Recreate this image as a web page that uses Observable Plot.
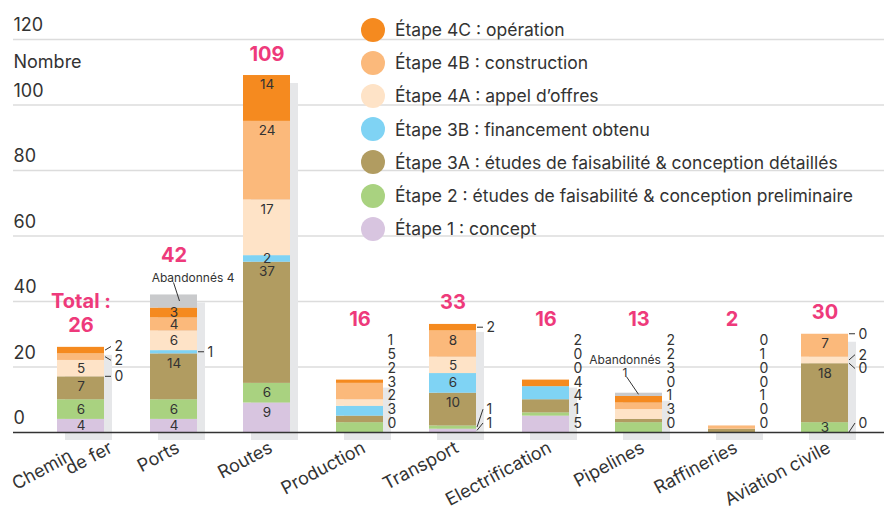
<!DOCTYPE html>
<html><head><meta charset="utf-8">
<script src="https://cdn.jsdelivr.net/npm/d3@7"></script>
<script src="https://cdn.jsdelivr.net/npm/@observablehq/plot@0.6"></script>
<style>
body{margin:0;background:#fff;font-family:Inter, Roboto, sans-serif;}
#wrap{position:relative;width:884px;height:507px;}
#legend{position:absolute;left:361px;top:13px;}
.row{display:flex;align-items:center;height:33.2px;font-size:17.5px;color:#333;white-space:nowrap;}
.sw{width:24px;height:24px;border-radius:50%;margin-right:10px;flex:none;}
svg text{font-family:Inter, Roboto, sans-serif;}
</style></head><body><div id="wrap"><div id="chart"></div><div id="legend"></div></div>
<script>
// ---------- data ----------
const categories = ["Chemin de fer","Ports","Routes","Production","Transport","Electrification","Pipelines","Raffineries","Aviation civile"];
const etape1  = [4, 4, 9, 0, 1, 5, 0, 0, 0];
const etape2  = [6, 6, 6, 3, 1, 1, 3, 0, 3];
const etape3A = [7, 14, 37, 2, 10, 4, 1, 1, 18];
const etape3B = [0, 1, 2, 3, 6, 4, 0, 0, 0];
const etape4A = [5, 6, 17, 2, 5, 0, 3, 0, 2];
const etape4B = [2, 4, 24, 5, 8, 0, 2, 1, 7];
const etape4C = [2, 3, 14, 1, 2, 2, 2, 0, 0];
const abandonnes = [0, 4, 0, 0, 0, 0, 1, 0, 0];
const totals = [26, 42, 109, 16, 33, 16, 13, 2, 30];
const yTicks = [0, 20, 40, 60, 80, 100, 120];
const stageKeys = ["e1","e2","e3A","e3B","e4A","e4B","e4C","ab"];
const stageNames = ["Étape 1 : concept","Étape 2 : études de faisabilité & conception preliminaire","Étape 3A : études de faisabilité & conception détaillés","Étape 3B : financement obtenu","Étape 4A : appel d’offres","Étape 4B : construction","Étape 4C : opération","Abandonnés"];
const stageColors = ["#d8c5e0","#a9d280","#b19c61","#7fd3f4","#fee3c7","#fbb97b","#f58a1f","#c9cacc"];
// label style per category: inside / mixed / list
const labelMode = ["mixed","mixed","inside","list","mixed","list","list","list","mixed"];
const annotations = [
  {category:"Ports", text:"Abandonnés 4", dx:19, dy:-13, x1:0, x2:6, y2:-12},
  {category:"Pipelines", text:"Abandonnés\n1", dx:-14, dy:-16, x1:-12, x2:0, y2:-16}
];

// ---------- layout ----------
const W = 884, H = 507, MT = 39, MB = 75, ML = 13;
const FONT = "Inter, Roboto, sans-serif";
const series = [etape1, etape2, etape3A, etape3B, etape4A, etape4B, etape4C, abandonnes];
const yScale = Plot.scale({y: {domain: [0, 120], range: [H - MB, MT]}});
const rows = [];
categories.forEach((c, i) => {
  let cum = 0;
  series.forEach((arr, s) => {
    rows.push({category: c, stage: stageKeys[s], s, i, value: arr[i], lo: cum, hi: cum + arr[i]});
    cum += arr[i];
  });
});
const grand = categories.map((c, i) => d3.sum(series, a => a[i]));
const catRows = categories.map((c, i) => ({category: c, grand: grand[i]}));

// inside labels
const inside = rows.filter(r => r.s < 7 && r.value > 0 && (labelMode[r.i] === "inside" || (labelMode[r.i] === "mixed" && r.value >= 3)))
  .map(r => ({...r, y: r.hi - Math.min(r.value / 2, 2.9)}));

// outside labels with spreading
const GAP = 13.8, MAXPX = H - MB - 9;
const outside = [];
categories.forEach((c, i) => {
  const mode = labelMode[i];
  if (mode === "inside") return;
  const items = rows.filter(r => r.i === i && r.s < 7 && (mode === "list" || r.value < 3))
    .map(r => ({...r, desired: yScale.apply((r.lo + r.hi) / 2)}));
  let clusters = items.map(d => ({items: [d]}));
  const layout = cl => {
    const m = d3.mean(cl.items, d => d.desired);
    let bottom = m + (cl.items.length - 1) * GAP / 2;
    bottom = Math.min(bottom, MAXPX);
    cl.bottom = bottom; cl.top = bottom - (cl.items.length - 1) * GAP;
  };
  let changed = true;
  while (changed) {
    changed = false;
    clusters.forEach(layout);
    for (let k = 0; k < clusters.length - 1; k++) {
      if (clusters[k].top - clusters[k + 1].bottom < GAP) {
        clusters[k] = {items: clusters[k].items.concat(clusters[k + 1].items)};
        clusters.splice(k + 1, 1);
        changed = true; break;
      }
    }
  }
  clusters.forEach(cl => cl.items.forEach((d, k) => {
    d.px = cl.bottom - k * GAP;
    outside.push({...d, y: yScale.invert(d.px), mode, text: String(d.value)});
  }));
});

// totals anchor
const totalRows = categories.map((c, i) => {
  let px = yScale.apply(grand[i]);
  outside.filter(o => o.i === i).forEach(o => { px = Math.min(px, o.px); });
  annotations.filter(a => a.category === c).forEach(a => {
    const n = a.text.split("\n").length;
    px = Math.min(px, yScale.apply(grand[i]) + a.dy - 5 - (n - 1) * 13.7);
  });
  return {category: c, y: yScale.invert(px), text: i === 0 ? "Total :\n" + totals[i] : String(totals[i])};
});

const singleCats = categories.filter(c => c !== "Chemin de fer");

const chart = Plot.plot({
  width: W, height: H,
  marginTop: MT, marginBottom: MB, marginLeft: ML, marginRight: 0,
  x: {type: "band", domain: categories, range: [30.6, 874.4], paddingInner: 0.5, paddingOuter: 0.25, axis: null},
  y: {domain: [0, 120], axis: null},
  color: {domain: stageKeys, range: stageColors},
  style: {fontFamily: FONT, color: "#333", background: "transparent"},
  marks: [
    Plot.ruleY(yTicks.filter(t => t > 0), {stroke: "#dcdcdc", strokeWidth: 1.3}),
    Plot.barY(catRows, {x: "category", y: "grand", fill: "#e6e7e9", dx: 8, dy: 8}),
    Plot.barY(rows, {x: "category", y: "value", fill: "stage", order: null}),
    Plot.ruleY([0], {stroke: "#333", strokeWidth: 1.5}),
    Plot.text(inside, {x: "category", y: "y", text: d => String(d.value), fontSize: 13.5, fill: "#333"}),
    Plot.text(outside.filter(o => o.mode === "mixed"), {x: "category", y: "y", text: "text", textAnchor: "start", dx: 33.5, fontSize: 14, fill: "#333"}),
    Plot.text(outside.filter(o => o.mode === "list"), {x: "category", y: "y", text: "text", textAnchor: "start", dx: 27.5, fontSize: 14, fill: "#333"}),
    Plot.text(totalRows, {x: "category", y: "y", text: "text", lineAnchor: "bottom", dy: -15, lineHeight: 1.2, fontSize: 20, fontWeight: "bold", fill: "#ee3a7b"}),
    ...annotations.map(a => Plot.text([a], {x: "category", y: d => grand[categories.indexOf(d.category)], text: "text", dx: a.dx, dy: a.dy, lineAnchor: "bottom", lineHeight: 1.1, fontSize: 12, fill: "#333"})),
    Plot.text(yTicks, {y: d => d, text: d => String(d), frameAnchor: "left", textAnchor: "start", dy: -14, fontSize: 18, fill: "#333"}),
    Plot.text(["Nombre"], {frameAnchor: "top-left", textAnchor: "start", lineAnchor: "middle", dy: 23, fontSize: 18, fill: "#333"}),
    Plot.text(singleCats, {x: d => d, text: d => d, frameAnchor: "bottom", lineAnchor: "middle", rotate: -28, textAnchor: "end", dx: 4, dy: 14, fontSize: 18, fill: "#333"}),
    Plot.text(["Chemin de fer"], {x: d => d, text: () => "Chemin", frameAnchor: "bottom", lineAnchor: "middle", rotate: -28, textAnchor: "end", dx: -10, dy: 22, fontSize: 18, fill: "#333"}),
    Plot.text(["Chemin de fer"], {x: d => d, text: () => "de fer", frameAnchor: "bottom", lineAnchor: "middle", rotate: -28, textAnchor: "end", dx: 30, dy: 14, fontSize: 18, fill: "#333"})
  ]
});
document.getElementById("chart").appendChild(chart);

// leader lines through the chart's own scales
const xs = chart.scale("x");
const ys = chart.scale("y");
const svg = d3.select(chart);
const g = svg.append("g").attr("stroke", "#333").attr("stroke-width", 1).attr("fill", "none");
outside.filter(o => o.mode === "mixed").forEach(o => {
  const right = xs.apply(o.category) + xs.bandwidth;
  g.append("line").attr("x1", right + 1).attr("y1", ys.apply((o.lo + o.hi) / 2))
    .attr("x2", right + 7).attr("y2", o.px);
});
annotations.forEach(a => {
  const i = categories.indexOf(a.category);
  const cx = xs.apply(a.category) + xs.bandwidth / 2;
  const top = ys.apply(grand[i]);
  const midAb = ys.apply(grand[i] - abandonnes[i] / 2);
  g.append("line").attr("x1", cx + a.x1).attr("y1", top + a.y2).attr("x2", cx + a.x2).attr("y2", midAb);
});

// legend
const legend = d3.select("#legend");
[6,5,4,3,2,1,0].forEach(s => {
  const row = legend.append("div").attr("class", "row");
  row.append("div").attr("class", "sw").style("background", stageColors[s]);
  row.append("span").text(stageNames[s]);
});
</script></body></html>
